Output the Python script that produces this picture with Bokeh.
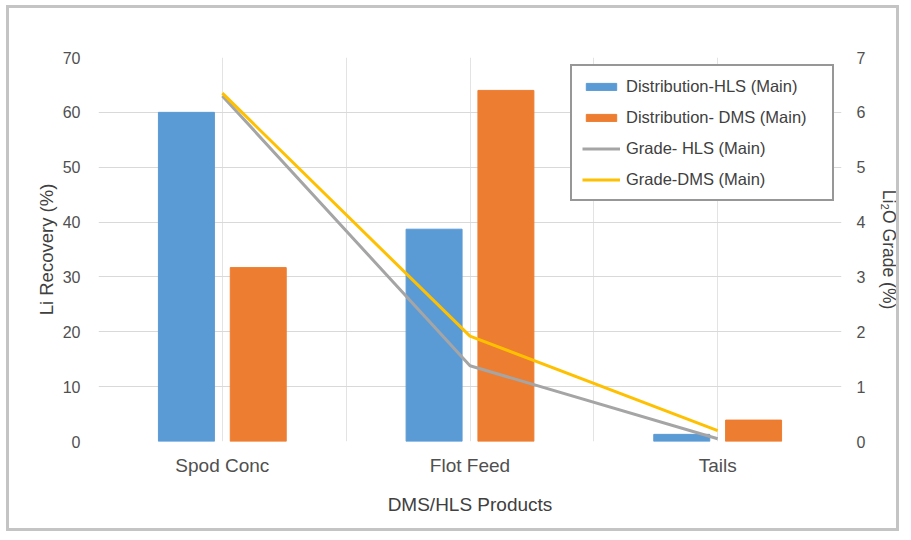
from bokeh.plotting import figure
from bokeh.models import (Range1d, LinearAxis, FixedTicker, Legend, LegendItem,
                          ColumnDataSource)
from bokeh.embed import file_html
from bokeh.resources import INLINE
import numpy as np

categories = ["Spod Conc", "Flot Feed", "Tails"]
dist_hls = [60.0, 38.7, 1.3]
dist_dms = [31.7, 64.0, 3.9]
grade_hls = [6.3, 1.38, 0.05]
grade_dms = [6.35, 1.92, 0.2]

FONT = "Liberation Sans"
xc = np.arange(len(categories)) + 0.5
src = ColumnDataSource(dict(x=xc, ghls=grade_hls, gdms=grade_dms))

p = figure(width=893, height=526, output_backend="svg", toolbar_location=None,
           x_range=Range1d(0, 3), y_range=Range1d(0, 70),
           min_border_left=89, min_border_right=60, min_border_top=49, min_border_bottom=93)
p.styles = {"border": "3px solid #c4c4c4", "margin": "5px 0px 0px 6px"}
p.outline_line_color = None
p.extra_y_ranges = {"grade": Range1d(0, 7)}

bw = 0.226
off = 0.145
r1 = p.vbar(x=xc - off, top=dist_hls, width=bw, color="#5B9BD5")
r2 = p.vbar(x=xc + off, top=dist_dms, width=bw, color="#ED7D31")
r3 = p.line(x="x", y="ghls", source=src, y_range_name="grade", line_color="#A5A5A5", line_width=3)
r4 = p.line(x="x", y="gdms", source=src, y_range_name="grade", line_color="#FFC000", line_width=3)

p.xaxis.ticker = FixedTicker(ticks=list(xc))
p.xaxis.major_label_overrides = {float(v): c for v, c in zip(xc, categories)}
p.xaxis.axis_label = "DMS/HLS Products"
p.yaxis.axis_label = "Li Recovery (%)"
p.yaxis.ticker = FixedTicker(ticks=list(range(0, 71, 10)))

ax2 = LinearAxis(y_range_name="grade", axis_label="Li\u2082O Grade (%)",
                 ticker=FixedTicker(ticks=list(range(0, 8))))
p.add_layout(ax2, "right")

for ax in [p.xaxis[0], p.yaxis[0], ax2]:
    ax.axis_line_color = None
    ax.major_tick_line_color = None
    ax.minor_tick_line_color = None
    ax.major_tick_out = 0
    ax.major_tick_in = 0
    ax.minor_tick_out = 0
    ax.minor_tick_in = 0
    ax.major_label_text_font = FONT
    ax.major_label_text_font_size = "16px"
    ax.major_label_text_color = "#505050"
    ax.axis_label_text_font = FONT
    ax.axis_label_text_font_size = "18.5px"
    ax.axis_label_text_font_style = "normal"
    ax.axis_label_text_color = "#404040"

ax2.axis_label_text_font_size = "17.5px"
p.xaxis.major_label_text_font_size = "19px"
p.xaxis.axis_label_text_font_size = "19px"
p.xaxis.major_label_standoff = 13
p.xaxis.axis_label_standoff = 15
p.yaxis[0].major_label_standoff = 18
p.yaxis[0].axis_label_standoff = 3
ax2.major_label_standoff = 15
ax2.axis_label_standoff = 11

p.xgrid.ticker = FixedTicker(ticks=[0, 0.5, 1, 1.5, 2, 2.5, 3])
p.xgrid.grid_line_color = "#e3e3e3"
p.ygrid.grid_line_color = "#d9d9d9"
p.ygrid.ticker = FixedTicker(ticks=list(range(0, 71, 10)))

legend = Legend(items=[
    LegendItem(label="Distribution-HLS (Main)", renderers=[r1]),
    LegendItem(label="Distribution- DMS (Main)", renderers=[r2]),
    LegendItem(label="Grade- HLS (Main)", renderers=[r3]),
    LegendItem(label="Grade-DMS (Main)", renderers=[r4]),
], location="top_right")
legend.label_text_font = FONT
legend.label_text_font_size = "16.5px"
legend.label_text_color = "#404040"
legend.border_line_color = "#303030"
legend.border_line_width = 2
legend.glyph_width = 38
legend.glyph_height = 9
legend.label_height = 20
legend.label_width = 196
legend.spacing = 11
legend.padding = 10
legend.label_standoff = 6
legend.margin = 7
legend.background_fill_alpha = 1
p.add_layout(legend)

open("out.html", "w").write(file_html(p, INLINE))
